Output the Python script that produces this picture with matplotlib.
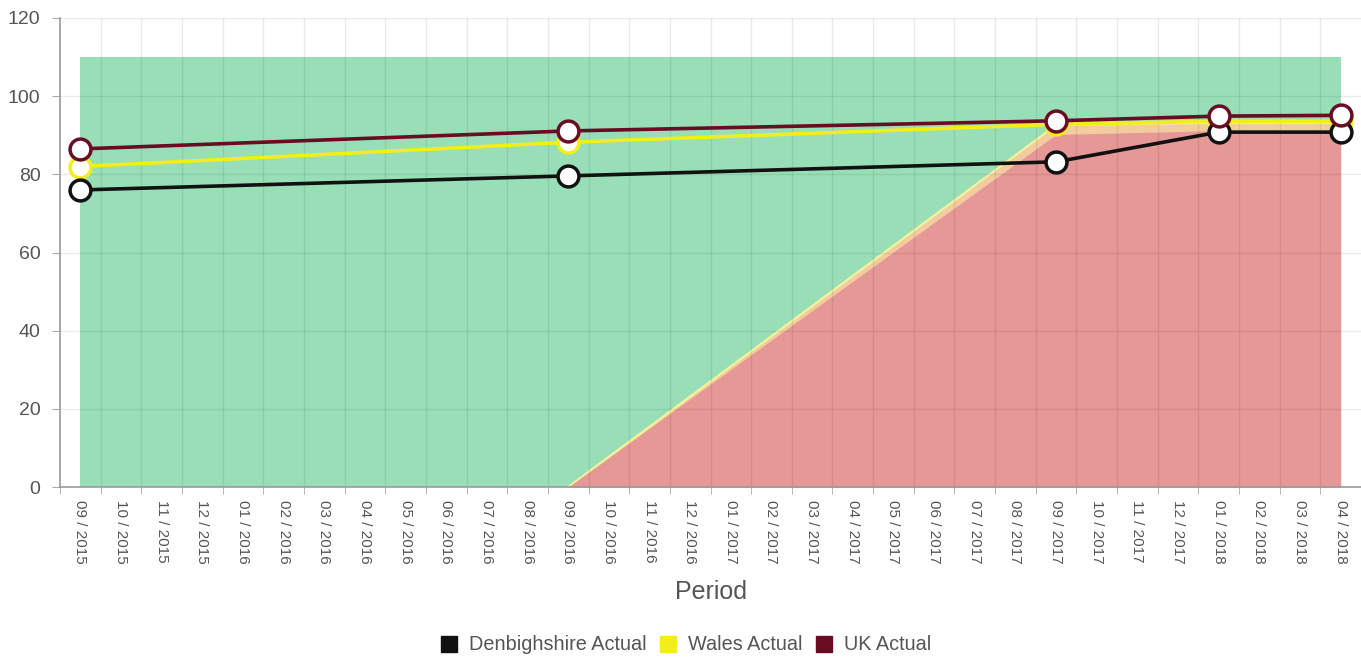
import numpy as np
import matplotlib
matplotlib.use("Agg")
import matplotlib.pyplot as plt
from matplotlib.lines import Line2D

plt.rcParams['font.family'] = ['Liberation Sans', 'DejaVu Sans']

months = ["09 / 2015", "10 / 2015", "11 / 2015", "12 / 2015",
          "01 / 2016", "02 / 2016", "03 / 2016", "04 / 2016", "05 / 2016", "06 / 2016",
          "07 / 2016", "08 / 2016", "09 / 2016", "10 / 2016", "11 / 2016", "12 / 2016",
          "01 / 2017", "02 / 2017", "03 / 2017", "04 / 2017", "05 / 2017", "06 / 2017",
          "07 / 2017", "08 / 2017", "09 / 2017", "10 / 2017", "11 / 2017", "12 / 2017",
          "01 / 2018", "02 / 2018", "03 / 2018", "04 / 2018"]

N = None
denbighshire = [76.0] + [N]*11 + [79.6] + [N]*11 + [83.2] + [N]*3 + [90.8] + [N]*2 + [90.8]
wales        = [82.0] + [N]*11 + [88.2] + [N]*11 + [92.8] + [N]*3 + [93.6] + [N]*2 + [93.6]
uk           = [86.5] + [N]*11 + [91.1] + [N]*11 + [93.7] + [N]*3 + [94.9] + [N]*2 + [95.1]

green_band = [110.0]*32
amber_band = [N]*12 + [0.0] + [N]*11 + [92.6] + [N]*3 + [93.2] + [N]*2 + [93.2]
red_band   = [N]*12 + [0.0] + [N]*11 + [90.2] + [N]*3 + [91.2] + [N]*2 + [91.2]

y_ticks = [0, 20, 40, 60, 80, 100, 120]


def valid(vals):
    xs = [i for i, v in enumerate(vals) if v is not None]
    ys = [v for v in vals if v is not None]
    return np.array(xs, float), np.array(ys, float)


fig = plt.figure(figsize=(13.61, 6.61), dpi=100)
ax = fig.add_axes([60/1361, 1-487/661, 1-60/1361, (487-18)/661])

gx, gy = valid(green_band)
ax.fill_between(gx, 0, gy, color=(0.596, 0.875, 0.718), lw=0, zorder=1)
ax_, ay = valid(amber_band)
ax.fill_between(ax_, 0, ay, color=(0.95, 0.80, 0.62), lw=0, zorder=1.1)
ax.plot(ax_, ay, color='#f6f29c', lw=1.6, zorder=1.15)
rx, ry = valid(red_band)
ax.fill_between(rx, 0, ry, color=(0.898, 0.596, 0.59), lw=0, zorder=1.2)

series = [
    ("Wales Actual", wales, "#f2ee1a", 3),
    ("Denbighshire Actual", denbighshire, "#111111", 4),
    ("UK Actual", uk, "#6a0c24", 5),
]
for name, vals, col, z in series:
    x, y = valid(vals)
    ax.plot(x, y, color=col, lw=2.6, zorder=z, marker='o', ms=15,
            mfc='white', mec=col, mew=2.5)

ax.set_xlim(-0.5, 31.5)
ax.set_ylim(0, 120)
ax.set_yticks(y_ticks)
ax.set_yticklabels([str(v) for v in y_ticks], fontsize=14, color='#555555')
ax.set_xticks(np.arange(len(months)))
ax.set_xticklabels(months, rotation=-90, fontsize=11, color='#555555')
ax.set_xticks(np.arange(-0.5, 32, 1), minor=True)
ax.tick_params(axis='x', which='major', length=0, pad=9)
ax.tick_params(axis='x', which='minor', length=5, color='#aaaaaa')
ax.tick_params(axis='y', length=6, color='#aaaaaa', pad=8)

ax.grid(False)
for v in y_ticks:
    ax.axhline(v, color=(0, 0, 0, 0.08), lw=1, zorder=2)
for b in np.arange(0.5, 31.5, 1):
    ax.axvline(b, color=(0, 0, 0, 0.08), lw=1, zorder=2)

for s in ['top', 'right']:
    ax.spines[s].set_visible(False)
for s in ['left', 'bottom']:
    ax.spines[s].set_color('#999999')
    ax.spines[s].set_linewidth(1.2)

fig.text(711/1361, 1-592/661, "Period", ha='center', va='center', fontsize=18, color='#555555')

handles = [Line2D([], [], ls='none', marker='s', ms=11, mfc=c, mec=c)
           for c in ["#111111", "#f2ee1a", "#6a0c24"]]
fig.legend(handles, ["Denbighshire Actual", "Wales Actual", "UK Actual"],
           loc='center', bbox_to_anchor=(686/1361, 1-645/661), ncol=3, frameon=False,
           fontsize=14.3, handlelength=0.8, handletextpad=0.6, columnspacing=0.7,
           labelcolor='#555555')

fig.savefig("out.png", dpi=100)
